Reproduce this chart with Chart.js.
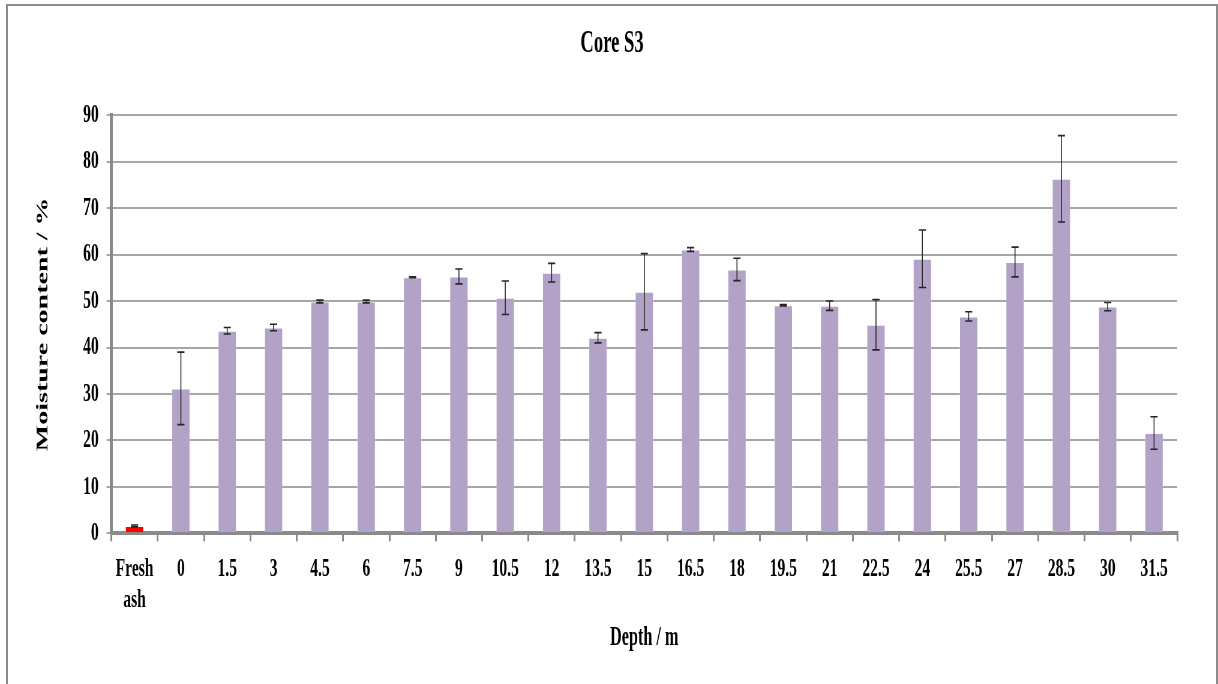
<!DOCTYPE html>
<html>
<head>
<meta charset="utf-8">
<script src="https://cdn.jsdelivr.net/npm/chart.js@4.4.1/dist/chart.umd.min.js"></script>
<style>
  html, body { margin: 0; padding: 0; background: #ffffff; width: 1218px; height: 684px; overflow: hidden; }
  #frame { position: absolute; left: 6px; top: 4px; width: 1212px; height: 720px; box-sizing: border-box; border: 2px solid #8c8c8c; pointer-events: none; }
  #wrap { position: absolute; left: 0; top: 0; width: 2030px; height: 684px; transform: scaleX(0.6); transform-origin: 0 0; }
  #c { display: block; }
</style>
</head>
<body>
<div id="wrap"><canvas id="c" width="2030" height="684"></canvas></div>
<div id="frame"></div>
<script>
// ---- data ----
const categories = [["Fresh", "ash"], "0", "1.5", "3", "4.5", "6", "7.5", "9", "10.5", "12", "13.5", "15", "16.5", "18", "19.5", "21", "22.5", "24", "25.5", "27", "28.5", "30", "31.5"];
const moisture = [1.6, 31.2, 43.6, 44.3, 49.9, 49.9, 55.1, 55.3, 50.7, 56.1, 42.1, 52.0, 61.1, 56.8, 49.1, 49.0, 44.9, 59.1, 46.7, 58.4, 76.3, 48.8, 21.6];
const errors = [0.2, 7.8, 0.7, 0.7, 0.3, 0.3, 0.1, 1.6, 3.6, 2.0, 1.1, 8.2, 0.4, 2.4, 0.15, 1.0, 5.4, 6.2, 1.0, 3.2, 9.3, 0.9, 3.5];
const barColors = ["#ff0000", "#b3a2c7", "#b3a2c7", "#b3a2c7", "#b3a2c7", "#b3a2c7", "#b3a2c7", "#b3a2c7", "#b3a2c7", "#b3a2c7", "#b3a2c7", "#b3a2c7", "#b3a2c7", "#b3a2c7", "#b3a2c7", "#b3a2c7", "#b3a2c7", "#b3a2c7", "#b3a2c7", "#b3a2c7", "#b3a2c7", "#b3a2c7", "#b3a2c7"];
const yTicks = [0, 10, 20, 30, 40, 50, 60, 70, 80, 90];

const errorBars = {
  id: 'errorBars',
  afterDatasetsDraw(chart) {
    const ctx = chart.ctx;
    const meta = chart.getDatasetMeta(0);
    const ys = chart.scales.y;
    ctx.save();
    ctx.strokeStyle = '#262626';
    ctx.lineWidth = 1.6;
    meta.data.forEach((bar, i) => {
      const v = moisture[i], e = errors[i];
      const x = bar.x;
      const yT = ys.getPixelForValue(v + e);
      const yB = ys.getPixelForValue(v - e);
      ctx.beginPath();
      ctx.moveTo(x, yT); ctx.lineTo(x, yB);
      ctx.moveTo(x - 6, yT); ctx.lineTo(x + 6, yT);
      ctx.moveTo(x - 6, yB); ctx.lineTo(x + 6, yB);
      ctx.stroke();
    });
    ctx.restore();
  }
};

const serif = '"Liberation Serif", "Times New Roman", serif';

new Chart(document.getElementById('c'), {
  type: 'bar',
  data: {
    labels: categories,
    datasets: [{
      data: moisture,
      backgroundColor: barColors,
      borderColor: 'rgba(255,255,255,0.35)',
      borderWidth: 1,
      barPercentage: 0.4,
      categoryPercentage: 1.0
    }]
  },
  options: {
    responsive: false,
    animation: false,
    devicePixelRatio: 1,
    layout: { padding: { left: 78, right: 68, top: 0, bottom: 36 } },
    plugins: {
      legend: { display: false },
      tooltip: { enabled: false },
      title: {
        display: true,
        text: 'Core S3',
        color: '#000000',
        font: { family: serif, size: 31, weight: 'bold', lineHeight: 1.2 },
        padding: { top: 25, bottom: 53 }
      }
    },
    scales: {
      x: {
        grid: { display: true, drawOnChartArea: false, drawTicks: true, tickLength: 8, color: '#8a8a8a', lineWidth: 3, offset: true },
        border: { display: true, color: '#8a8a8a', width: 4 },
        ticks: { color: '#000000', font: { family: serif, size: 26, weight: 'bold', lineHeight: 1.2 }, padding: 12, maxRotation: 0, autoSkip: false },
        title: { display: true, text: 'Depth / m', color: '#000000', font: { family: serif, size: 27, weight: 'bold', lineHeight: 0.75 }, padding: { top: 0, bottom: 0 } }
      },
      y: {
        min: 0,
        max: 90,
        afterBuildTicks(scale) { scale.ticks = yTicks.map(v => ({ value: v })); },
        grid: { color: '#a6a6a6', lineWidth: 2, drawTicks: true, tickLength: 8 },
        border: { display: true, color: '#8a8a8a', width: 5 },
        ticks: { color: '#000000', font: { family: serif, size: 26, weight: 'bold' }, padding: 13 },
        title: { display: true, text: 'Moisture content / %', color: '#000000', font: { family: serif, size: 28, weight: 'bold', lineHeight: 1.2 }, padding: { top: -23, bottom: 37 } }
      }
    }
  },
  plugins: [errorBars]
});
</script>
</body>
</html>
